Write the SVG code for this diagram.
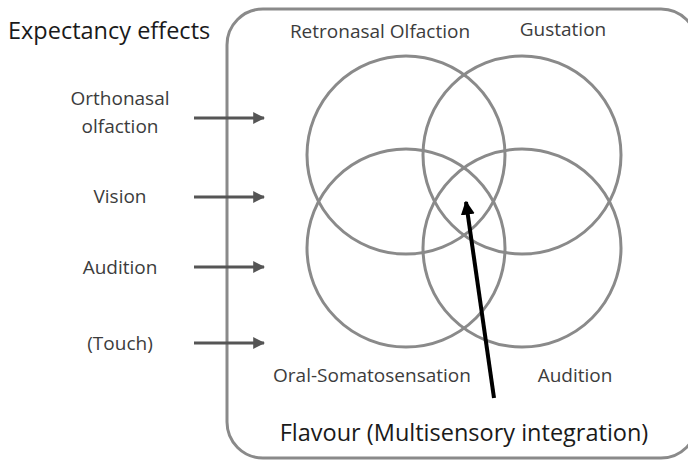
<svg xmlns="http://www.w3.org/2000/svg" width="688" height="460" viewBox="0 0 688 460">
<defs>
<style>
.lbl{font-family:"Open Sans","Noto Sans","Liberation Sans",sans-serif;fill:#3c3c3c;font-size:19px;text-anchor:middle}
.big{font-family:"Open Sans","Noto Sans","Liberation Sans",sans-serif;fill:#1a1a1a;font-size:23.5px}
.ring{fill:none;stroke:#8a8a8a;stroke-width:3}
.in{stroke:#555;stroke-width:3;fill:none;marker-end:url(#ah)}
</style>
<marker id="ah" viewBox="0 0 10 10" refX="9" refY="5" markerWidth="4" markerHeight="4" orient="auto" markerUnits="strokeWidth"><path d="M0,0 L10,5 L0,10 z" fill="#555"/></marker>
<marker id="bh" viewBox="0 0 10 10" refX="9" refY="5" markerWidth="3.5" markerHeight="3.5" orient="auto" markerUnits="strokeWidth"><path d="M0,0 L10,5 L0,10 z" fill="#000"/></marker>
</defs>
<rect width="688" height="460" fill="#fff"/>
<g id="frame"><rect x="227" y="9" width="470" height="449" rx="36" ry="36" fill="none" stroke="#8a8a8a" stroke-width="3"/></g>
<g id="title"><text class="big" x="8" y="39">Expectancy effects</text></g>
<g id="orthonasal"><text class="lbl" x="120" y="105">Orthonasal</text><text class="lbl" x="120" y="133">olfaction</text></g>
<g id="vision"><text class="lbl" x="120" y="203">Vision</text></g>
<g id="audition-left"><text class="lbl" x="120" y="274">Audition</text></g>
<g id="touch"><text class="lbl" x="120" y="350">(Touch)</text></g>
<g id="retronasal"><circle class="ring" cx="406" cy="155" r="99"/><text class="lbl" x="380" y="38">Retronasal Olfaction</text></g>
<g id="gustation"><circle class="ring" cx="522" cy="155" r="99"/><text class="lbl" x="563" y="36">Gustation</text></g>
<g id="oral"><circle class="ring" cx="406" cy="248" r="99"/><text class="lbl" x="372" y="382">Oral-Somatosensation</text></g>
<g id="audition-right"><circle class="ring" cx="522" cy="248" r="99"/><text class="lbl" x="575" y="382">Audition</text></g>
<g id="flavour"><text class="big" x="464" y="441" text-anchor="middle">Flavour (Multisensory integration)</text></g>
<g id="connectors">
<line class="in" x1="194" y1="118" x2="264" y2="118"/>
<line class="in" x1="194" y1="197" x2="264" y2="197"/>
<line class="in" x1="194" y1="267" x2="264" y2="267"/>
<line class="in" x1="194" y1="343" x2="264" y2="343"/>
<line x1="494" y1="398" x2="466" y2="202" stroke="#000" stroke-width="4" marker-end="url(#bh)"/>
</g>
</svg>
